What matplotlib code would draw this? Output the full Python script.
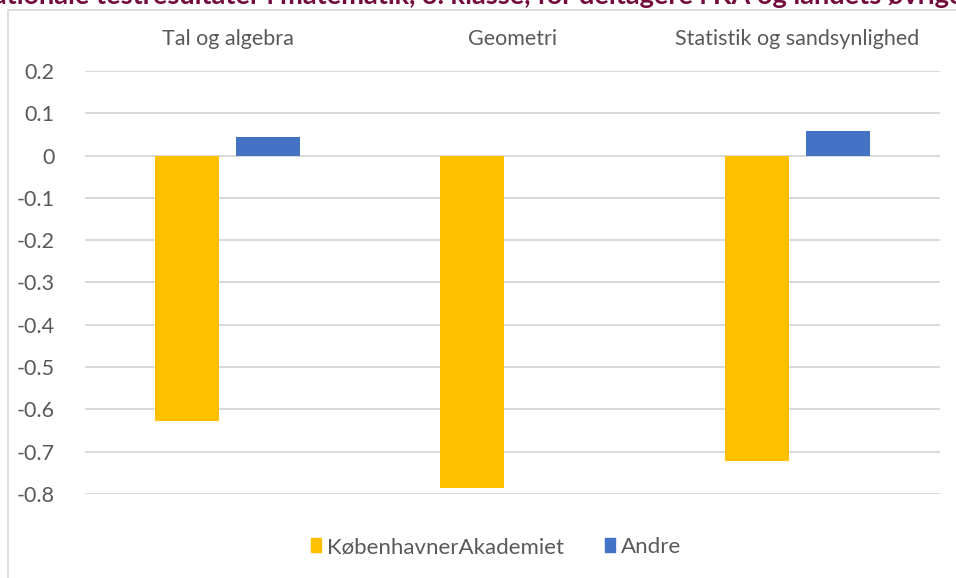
import matplotlib.pyplot as plt
from matplotlib.patches import Rectangle, Patch
import numpy as np

categories = ['Tal og algebra', 'Geometri', 'Statistik og sandsynlighed']
ka_values = [-0.627, -0.785, -0.723]
andre_values = [0.044, 0.0, 0.057]
series_names = ['KøbenhavnerAkademiet', 'Andre']
yticks = [0.2, 0.1, 0, -0.1, -0.2, -0.3, -0.4, -0.5, -0.6, -0.7, -0.8]
title = 'Nationale testresultater i matematik, 3. klasse, for deltagere i KA og landets øvrige skoler'

yellow = '#FFC000'
blue = '#4472C4'
grid = '#D9D9D9'
txt = '#595959'

W, H = 956, 578
fig = plt.figure(figsize=(W / 100, H / 100), dpi=100)
plt.rcParams['font.family'] = ['Lato', 'DejaVu Sans']

# chart area border (only left and top edges visible in the crop)
fig.patches.append(Rectangle((7.5 / W, -0.1), 1.2, 1 - 10 / H + 0.1,
                             transform=fig.transFigure, fill=False,
                             edgecolor=grid, linewidth=1.2))

# cropped title: only the lower part shows
fig.text(-28 / W, 1 - 4.5 / H, title, ha='left', va='baseline',
         fontsize=19.5, fontweight='bold', color='#730C3C')

ax = fig.add_axes([85 / W, 1 - 494 / H, (940 - 85) / W, (494 - 71) / H])
x = np.arange(len(categories))
w = 0.225
off = 0.143
ax.bar(x - off, ka_values, w, color=yellow, label=series_names[0], zorder=3)
ax.bar(x + off, andre_values, w, color=blue, label=series_names[1], zorder=3)

ax.set_xlim(-0.5, 2.5)
ax.set_ylim(-0.8, 0.2)
ax.set_yticks(yticks)
ax.set_yticklabels([('%g' % v) for v in yticks])
ax.yaxis.grid(True, color=grid, linewidth=1.4, zorder=0)
ax.set_xticks(x)
ax.set_xticklabels(categories)
ax.xaxis.set_ticks_position('top')
ax.tick_params(axis='x', length=0, pad=16, labelsize=15.5, labelcolor=txt)
ax.tick_params(axis='y', length=0, pad=22, labelsize=15.5, labelcolor=txt)
for s in ax.spines.values():
    s.set_visible(False)

handles = [Patch(color=yellow), Patch(color=blue)]
fig.legend(handles, series_names, loc='center', bbox_to_anchor=(496 / W, 1 - 547 / H),
           ncol=2, frameon=False, fontsize=16, labelcolor=txt,
           handlelength=0.45, handleheight=0.6, handletextpad=0.25, columnspacing=1.85)

fig.savefig('out.png', dpi=100)
